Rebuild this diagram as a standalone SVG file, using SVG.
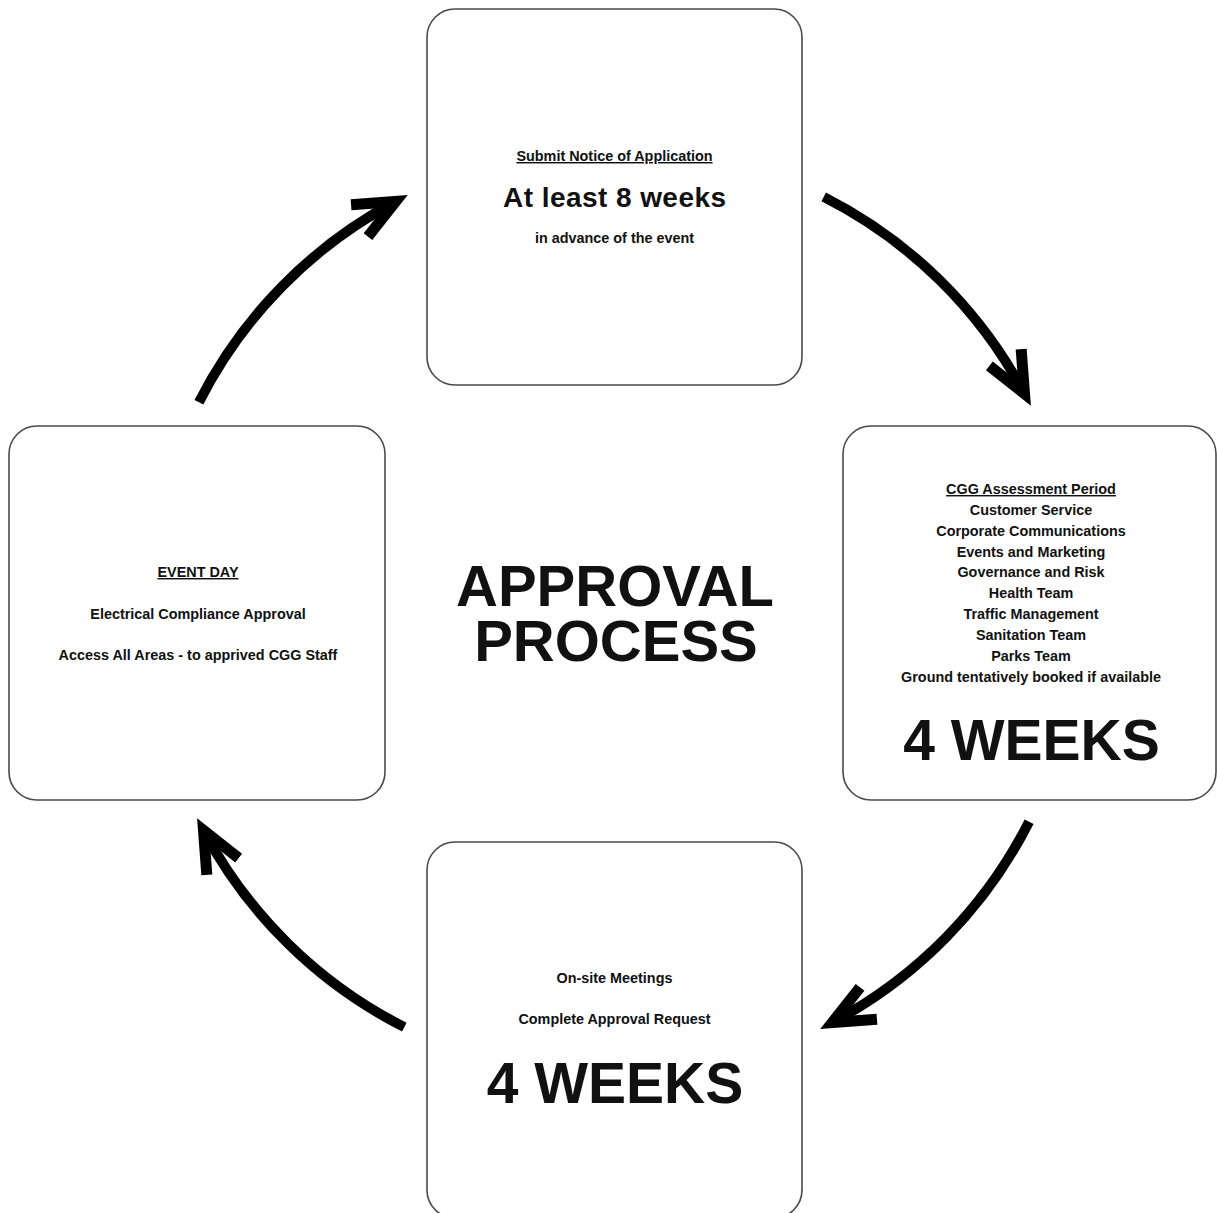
<svg xmlns="http://www.w3.org/2000/svg" width="1217" height="1213" viewBox="0 0 1217 1213">
<defs>
<style>
.box{fill:#fff;stroke:#4a4a4a;stroke-width:1.6}
text{font-family:"Liberation Sans",Arial,sans-serif;font-weight:bold;fill:#111;text-anchor:middle}
.s{font-size:14.4px}
.u{text-decoration:underline}
.m{font-size:28px}
.big{font-size:57px}
.title{font-size:58px}
.arc{fill:none;stroke:#000;stroke-width:10;stroke-linecap:butt}
</style>
<marker id="chev" markerUnits="userSpaceOnUse" orient="auto" refX="0" refY="0" markerWidth="10" markerHeight="10" overflow="visible">
<path d="M -41 -18 L 0 0 L -41 18" fill="none" stroke="#000" stroke-width="11" stroke-linejoin="miter" stroke-miterlimit="6"/>
</marker>
</defs>
<rect width="1217" height="1213" fill="#fff"/>

<g id="connectors">
<path class="arc" d="M 198.9 402.3 A 465 465 0 0 1 395.7 201.5" marker-end="url(#chev)"/>
<path class="arc" d="M 823.7 196.9 A 465 465 0 0 1 1024.5 393.7" marker-end="url(#chev)"/>
<path class="arc" d="M 1029.1 821.7 A 465 465 0 0 1 832.3 1022.5" marker-end="url(#chev)"/>
<path class="arc" d="M 404.3 1027.1 A 465 465 0 0 1 203.5 830.3" marker-end="url(#chev)"/>
</g>

<g id="node-submit">
<rect class="box" x="427" y="9" width="375" height="376" rx="28"/>
<text class="s u" x="614.5" y="161">Submit Notice of Application</text>
<text class="m" x="614.5" y="207" textLength="223">At least 8 weeks</text>
<text class="s" x="614.5" y="243">in advance of the event</text>
</g>

<g id="node-assessment">
<rect class="box" x="843" y="426" width="373" height="374" rx="28"/>
<text class="s u" x="1031" y="494">CGG Assessment Period</text>
<text class="s" x="1031" y="515">Customer Service</text>
<text class="s" x="1031" y="536">Corporate Communications</text>
<text class="s" x="1031" y="557">Events and Marketing</text>
<text class="s" x="1031" y="577">Governance and Risk</text>
<text class="s" x="1031" y="598">Health Team</text>
<text class="s" x="1031" y="619">Traffic Management</text>
<text class="s" x="1031" y="640">Sanitation Team</text>
<text class="s" x="1031" y="661">Parks Team</text>
<text class="s" x="1031" y="682">Ground tentatively booked if available</text>
<text class="big" x="1031.5" y="760">4 WEEKS</text>
</g>

<g id="node-onsite">
<rect class="box" x="427" y="842" width="375" height="376" rx="28"/>
<text class="s" x="614.5" y="983">On-site Meetings</text>
<text class="s" x="614.5" y="1024">Complete Approval Request</text>
<text class="big" x="615" y="1103">4 WEEKS</text>
</g>

<g id="node-eventday">
<rect class="box" x="9" y="426" width="376" height="374" rx="28"/>
<text class="s u" x="198" y="577">EVENT DAY</text>
<text class="s" x="198" y="619">Electrical Compliance Approval</text>
<text class="s" x="198" y="660">Access All Areas - to apprived CGG Staff</text>
</g>

<g id="title">
<text class="title"><tspan x="615" y="606">APPROVAL</tspan><tspan x="616" y="661">PROCESS</tspan></text>
</g>
</svg>
